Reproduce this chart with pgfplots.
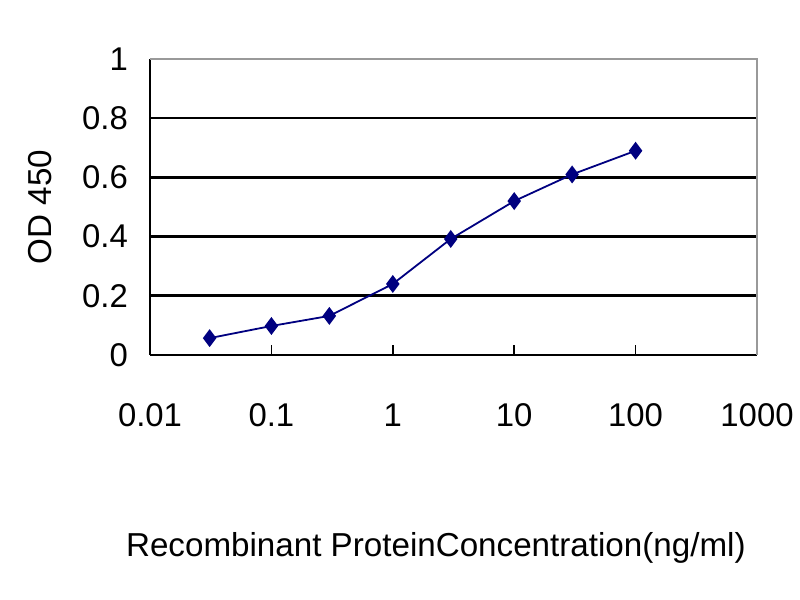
\documentclass[border=0pt]{standalone}
\usepackage{fontspec}
\setmainfont{Liberation Sans}
\usepackage{pgfplots}
\pgfplotsset{compat=1.18}
\definecolor{navy}{RGB}{0,0,128}
\begin{document}
\begin{tikzpicture}[x=1bp,y=1bp]
\path[use as bounding box, fill=white] (0,0) rectangle (800,600);
\begin{axis}[
  at={(150bp,245bp)}, anchor=south west,
  scale only axis, width=607bp, height=296bp,
  xmode=log, log basis x=10,
  xmin=0.01, xmax=1000, ymin=0, ymax=1,
  xtick={0.01,0.1,1,10,100,1000},
  xticklabels={0.01,0.1,1,10,100,1000},
  minor x tick num=0,
  ytick={0,0.2,0.4,0.6,0.8,1},
  yticklabels={0,0.2,0.4,0.6,0.8,1},
  extra y ticks={0.2,0.4,0.6,0.8},
  extra y tick labels={},
  extra y tick style={grid=major, major grid style={black, line width=2.6bp}, ytick style={draw=none}},
  axis x line*=bottom, axis y line*=left,
  axis line style={black, line width=2bp, -},
  xtick align=inside, major tick length=10bp,
  xtick style={black, line width=1.6bp},
  ytick style={draw=none},
  /pgf/number format/assume math mode=true,
  tick label style={font=\fontsize{33}{38}\selectfont},
  xticklabel style={anchor=center, yshift=-60bp},
  yticklabel style={anchor=east, inner sep=0pt, xshift=-22bp},
  xlabel={Recombinant ProteinConcentration(ng/ml)},
  ylabel={OD 450},
  label style={font=\fontsize{33.3}{38}\selectfont},
  xlabel style={at={(axis description cs:0.471,-0.652)}, anchor=center},
  ylabel style={at={(axis description cs:-0.181,0.5)}, anchor=center},
  clip=false,
  after end axis/.code={
    \draw[gray!80, line width=1.6bp] (rel axis cs:0,1) -- (rel axis cs:1,1) -- (rel axis cs:1,0);
  },
]
\addplot[navy, line width=1.8bp, mark=diamond*, mark size=7.5bp, mark options={fill=navy, draw=navy}]
  coordinates {(0.031,0.057) (0.1,0.098) (0.3,0.132) (1,0.24) (3,0.392) (10,0.52) (30,0.61) (100,0.69)};
\end{axis}
\end{tikzpicture}
\end{document}
